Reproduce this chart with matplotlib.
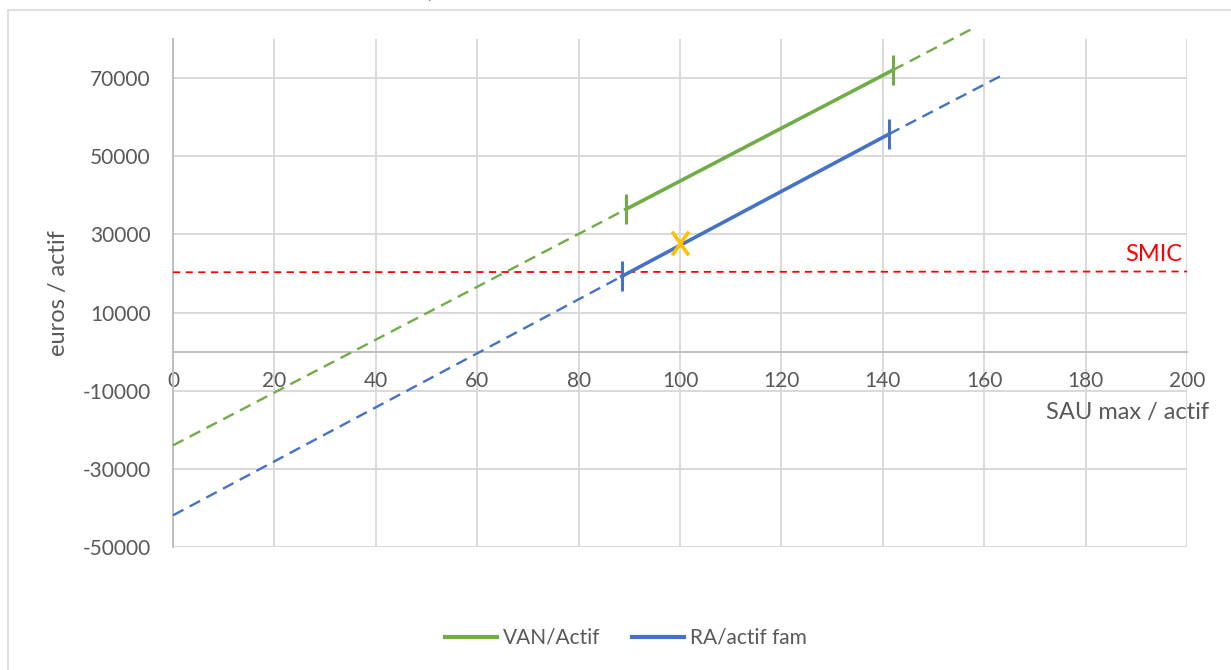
import matplotlib
matplotlib.use('Agg')
import matplotlib.pyplot as plt
from matplotlib.lines import Line2D
from matplotlib.path import Path

# Data
van_dash_left_x = [0, 89.3]
van_dash_left_y = [-24000, 36400]
van_solid_x = [89.3, 142.0]
van_solid_y = [36400, 72050]
van_dash_right_x = [142.0, 157.3]
van_dash_right_y = [72050, 82400]

ra_dash_left_x = [0, 88.5]
ra_dash_left_y = [-41900, 19250]
ra_solid_x = [88.5, 141.2]
ra_solid_y = [19250, 55650]
ra_dash_right_x = [141.2, 163.8]
ra_dash_right_y = [55650, 70900]

smic_x = [0, 200]
smic_y = [20300, 20500]

point_x = [100]
point_y = [27700]

x_ticks = list(range(0, 201, 20))
y_ticks = list(range(-50000, 70001, 20000))

GREEN = '#70AD47'
BLUE = '#4472C4'
ORANGE = '#FFC000'
RED = '#FF0000'
GRID = '#D9D9D9'
AXIS = '#BFBFBF'
TEXT = '#595959'

plt.rcParams['font.family'] = ['Lato', 'DejaVu Sans']

W, H = 1231, 670
fig = plt.figure(figsize=(W / 100, H / 100), dpi=100)

# chart border (Excel chart area)
fig.add_artist(Line2D([8 / W, 8 / W], [0, 1 - 9.5 / H], color=GRID, lw=1.2))
fig.add_artist(Line2D([8 / W, 1], [1 - 9.5 / H, 1 - 9.5 / H], color=GRID, lw=1.2))
# remains of a cropped title
fig.text(432 / W, 1 - 3 / H, '/', color=BLUE, fontsize=14, style='italic',
         ha='center', va='bottom')

ax = fig.add_axes([173 / W, 1 - 547 / H, 1014 / W, 508 / H])
ax.set_xlim(0, 200)
ax.set_ylim(-50000, 80000)

# grid
for yt in y_ticks:
    ax.plot([0, 200], [yt, yt], color=GRID, lw=1.4, zorder=0)
for xt in x_ticks[1:]:
    ax.plot([xt, xt], [-50000, 80000], color=GRID, lw=1.4, zorder=0)

for side in ['top', 'right']:
    ax.spines[side].set_visible(False)
ax.spines['left'].set_color(AXIS)
ax.spines['left'].set_linewidth(1.4)
ax.spines['bottom'].set_position(('data', 0))
ax.spines['bottom'].set_color(AXIS)
ax.spines['bottom'].set_linewidth(1.4)

ax.set_xticks(x_ticks)
ax.set_yticks(y_ticks)
ax.set_yticklabels([str(v) for v in y_ticks])
ax.tick_params(axis='both', length=0, labelsize=15, labelcolor=TEXT)
ax.tick_params(axis='x', pad=14)
ax.tick_params(axis='y', pad=16)

# dashed extensions
dash = dict(lw=1.7, linestyle=(0, (5, 3)), clip_on=False, zorder=3)
ax.plot(van_dash_left_x, van_dash_left_y, color=GREEN, **dash)
ax.plot(van_dash_right_x, van_dash_right_y, color=GREEN, **dash)
ax.plot(ra_dash_left_x, ra_dash_left_y, color=BLUE, **dash)
ax.plot(ra_dash_right_x, ra_dash_right_y, color=BLUE, **dash)

# SMIC
ax.plot(smic_x, smic_y, color=RED, lw=1.3, linestyle=(0, (4, 3)), zorder=3)
ax.text(199, 24900, 'SMIC', color=RED, fontsize=17, ha='right', va='center')

# solid segments with end ticks
ax.plot(van_solid_x, van_solid_y, color=GREEN, lw=2.6, zorder=4,
        marker='|', markersize=22, markeredgewidth=2.2, label='VAN/Actif')
ax.plot(ra_solid_x, ra_solid_y, color=BLUE, lw=2.6, zorder=4,
        marker='|', markersize=22, markeredgewidth=2.2, label='RA/actif fam')

# orange cross
xmark = Path([(-0.7, -1), (0.7, 1), (-0.7, 1), (0.7, -1)],
             [Path.MOVETO, Path.LINETO, Path.MOVETO, Path.LINETO])
ax.plot(point_x, point_y, linestyle='none', marker=xmark, markersize=17,
        markeredgewidth=2.6, color=ORANGE, zorder=5)

ax.set_ylabel('euros / actif', fontsize=17, color=TEXT, labelpad=10)
ax.text(1.022, -15600, 'SAU max / actif', transform=ax.get_yaxis_transform(),
        fontsize=17, color=TEXT, ha='right', va='center', clip_on=False)

handles = [Line2D([], [], color=GREEN, lw=3), Line2D([], [], color=BLUE, lw=3)]
fig.legend(handles, ['VAN/Actif', 'RA/actif fam'], loc='center',
           bbox_to_anchor=(626 / W, 1 - 638 / H), ncol=2, frameon=False,
           fontsize=15, labelcolor=TEXT, handlelength=2.5, handletextpad=0.3,
           columnspacing=1.5)

fig.savefig('out.png', dpi=100)
